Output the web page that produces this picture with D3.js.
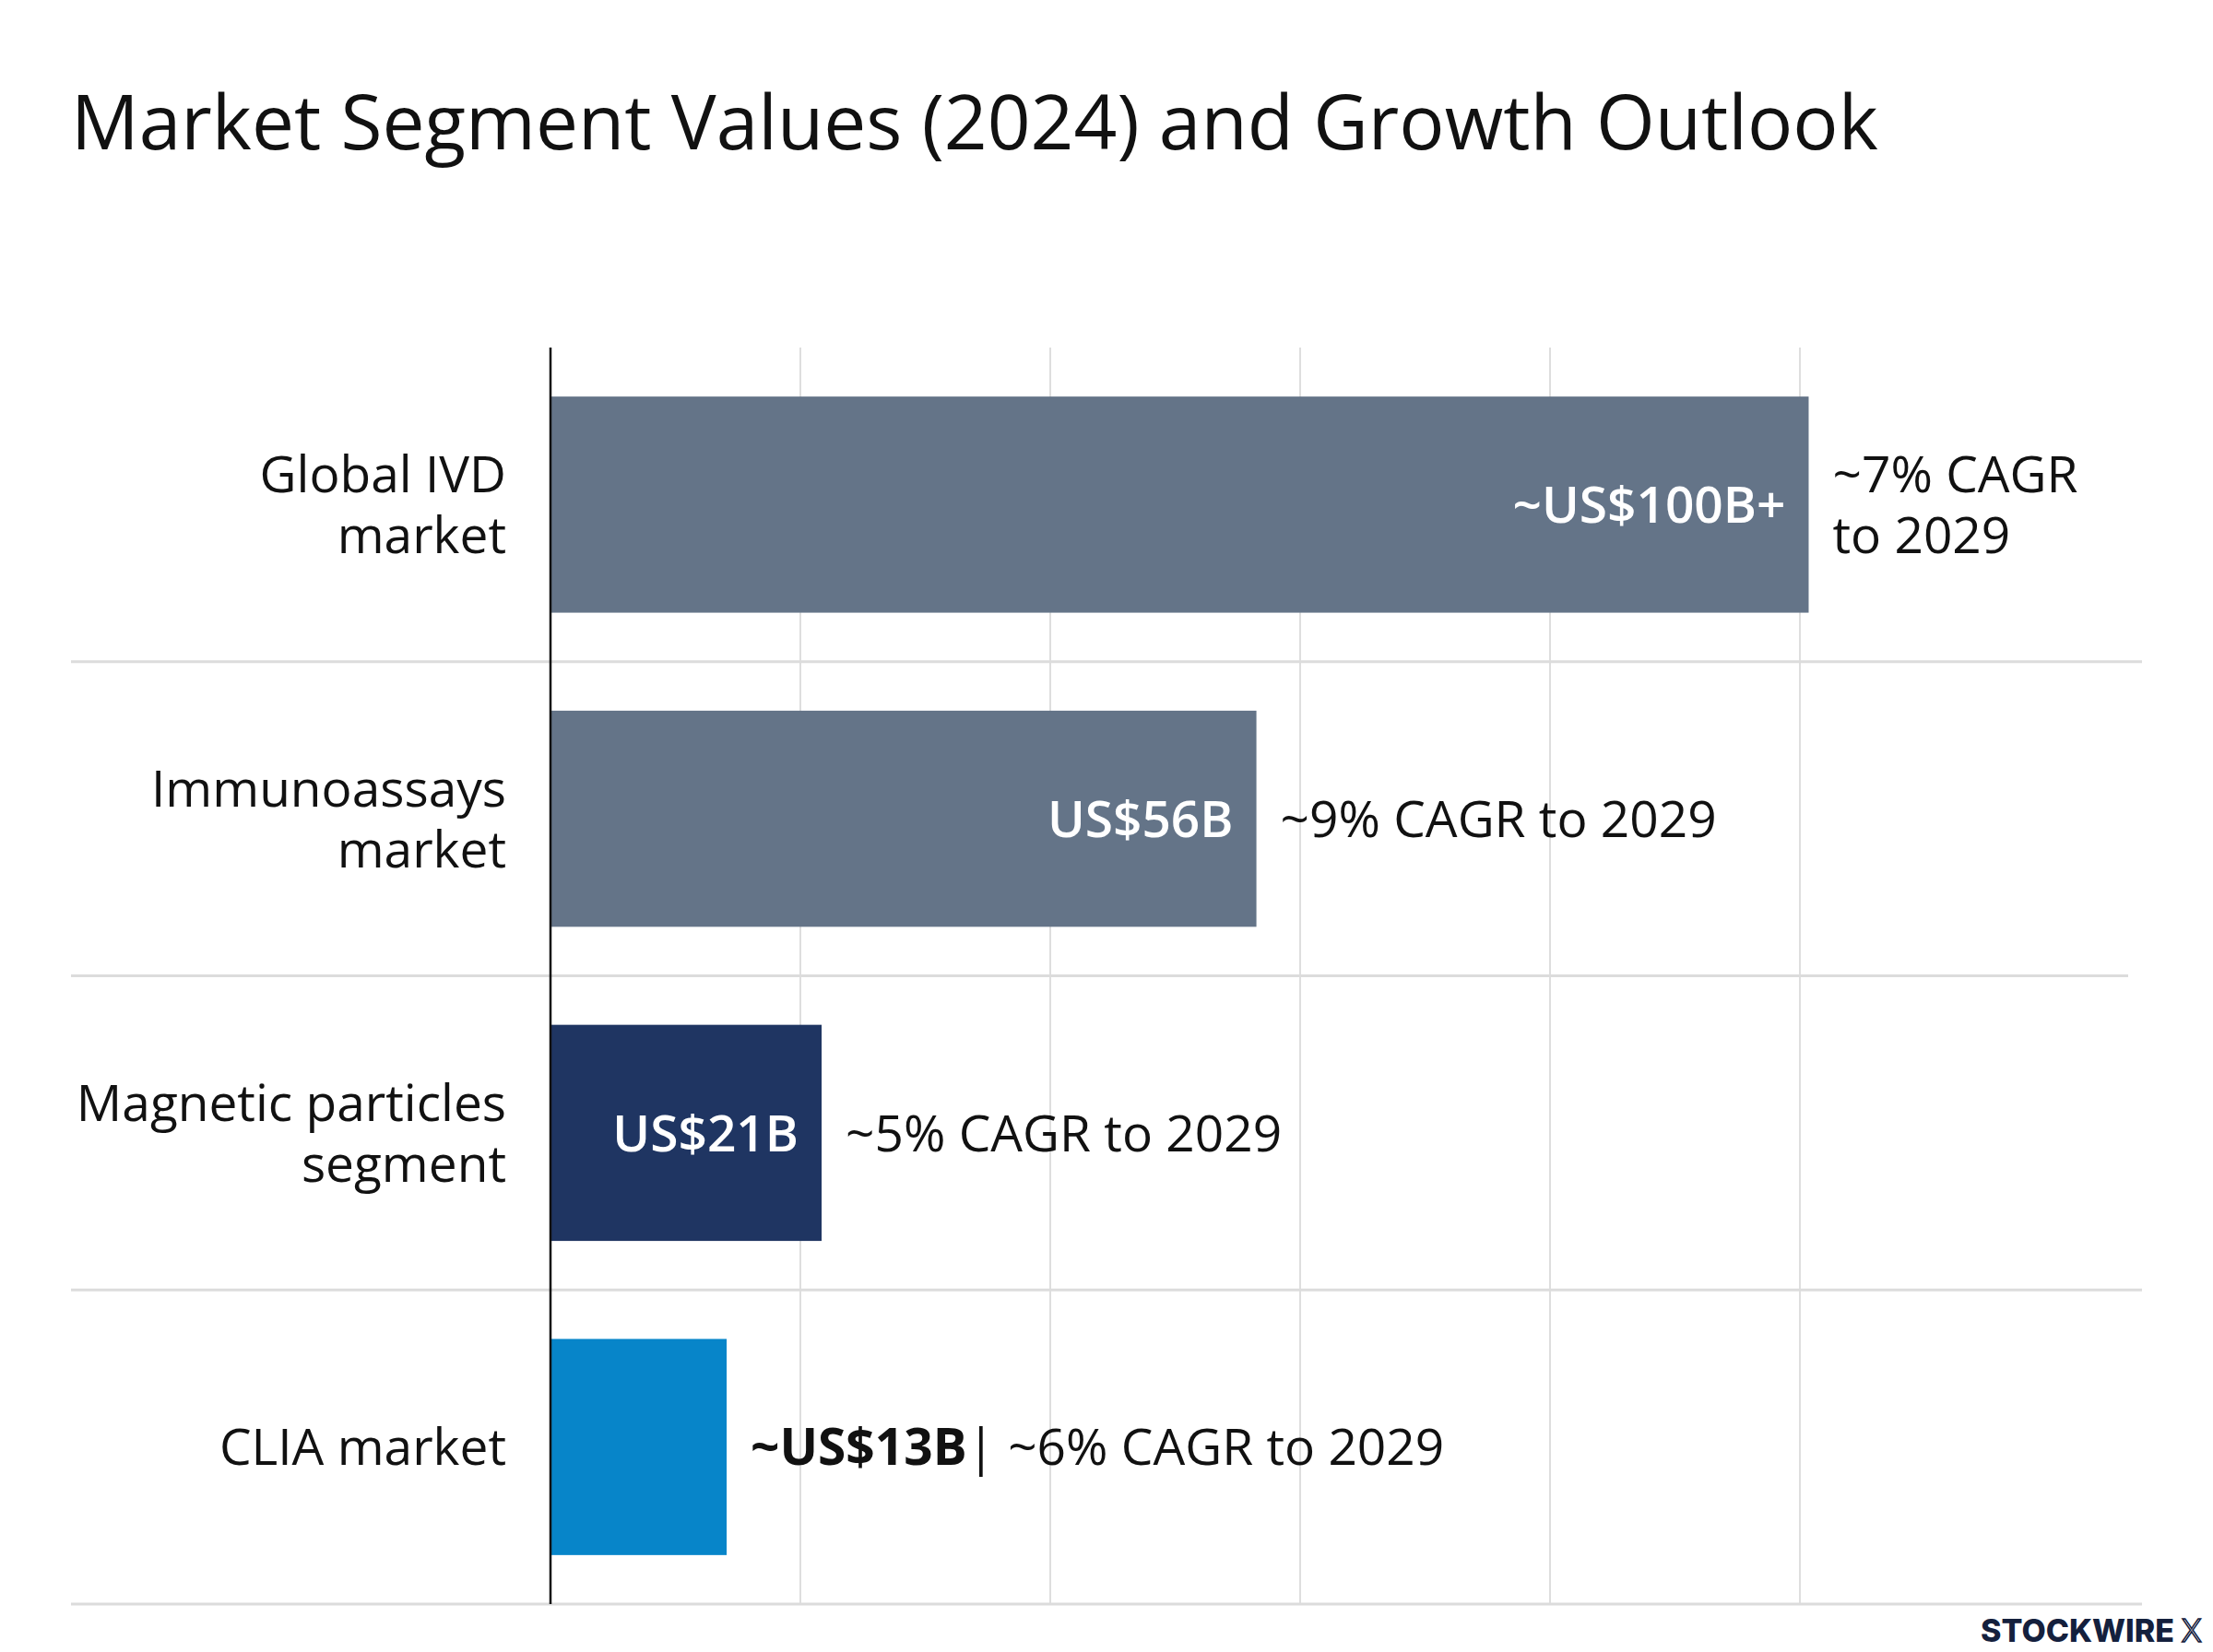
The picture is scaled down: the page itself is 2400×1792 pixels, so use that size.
<!DOCTYPE html>
<html>
<head>
<meta charset="utf-8">
<script src="https://cdn.jsdelivr.net/npm/d3@7"></script>
<style>
  body { margin: 0; background: #fff; }
  svg { display: block; }
  text { font-family: "Open Sans", "Noto Sans", sans-serif; }
</style>
</head>
<body>
<svg id="chart" width="2400" height="1792"></svg>
<script>
// -------- Data --------
const categories = ["Global IVD market", "Immunoassays market", "Magnetic particles segment", "CLIA market"];
const categoryLines = [["Global IVD", "market"], ["Immunoassays", "market"], ["Magnetic particles", "segment"], ["CLIA market"]];
const values = [100.7, 56.5, 21.7, 14.1]; // US$ billions, 2024
const valueLabels = ["~US$100B+", "US$56B", "US$21B", "~US$13B"];
const growthLabels = [["~7% CAGR", "to 2029"], ["~9% CAGR to 2029"], ["~5% CAGR to 2029"], ["~6% CAGR to 2029"]];
const xTicks = [0, 20, 40, 60, 80, 100];

const palette = ["#647488", "#647488", "#1f3562", "#0785c9"];

// -------- Layout --------
const width = 2400, height = 1792;
const margin = { top: 377, right: 448, bottom: 52, left: 597 };
const fontSize = 55;
const lineGap = 66;

const svg = d3.select("#chart");

svg.append("text")
  .attr("x", 77)
  .attr("y", 162)
  .style("font-size", "82px")
  .style("fill", "#111")
  .text("Market Segment Values (2024) and Growth Outlook");

const x = d3.scaleLinear()
  .domain([0, 100])
  .range([margin.left, width - margin.right]);

const y = d3.scaleBand()
  .domain(categories)
  .range([margin.top, height - margin.bottom])
  .paddingInner(0.312)
  .paddingOuter(0.156);

const rowStep = y.step();

// --- vertical gridlines ---
svg.append("g")
  .selectAll("line")
  .data(xTicks.filter((t) => t > 0))
  .join("line")
  .attr("x1", (d) => x(d))
  .attr("x2", (d) => x(d))
  .attr("y1", margin.top)
  .attr("y2", height - margin.bottom)
  .attr("stroke", "#dedede")
  .attr("stroke-width", 2);

// --- row separators ---
svg.append("g")
  .selectAll("line")
  .data(categories)
  .join("line")
  .attr("x1", 77)
  .attr("x2", (d, i) => (i === 1 ? 2308 : 2323))
  .attr("y1", (d) => y(d) - y.paddingOuter() * rowStep + rowStep)
  .attr("y2", (d) => y(d) - y.paddingOuter() * rowStep + rowStep)
  .attr("stroke", "#dcdcdc")
  .attr("stroke-width", 3);

// --- bars ---
const rows = categories.map((c, i) => ({
  cat: c,
  lines: categoryLines[i],
  value: values[i],
  label: valueLabels[i],
  growth: growthLabels[i],
  color: palette[i],
}));

svg.append("g")
  .selectAll("rect")
  .data(rows)
  .join("rect")
  .attr("x", x(0))
  .attr("y", (d) => y(d.cat))
  .attr("width", (d) => x(d.value) - x(0))
  .attr("height", y.bandwidth())
  .attr("fill", (d) => d.color);

// --- axis line ---
svg.append("line")
  .attr("x1", x(0))
  .attr("x2", x(0))
  .attr("y1", margin.top)
  .attr("y2", height - margin.bottom)
  .attr("stroke", "#111")
  .attr("stroke-width", 2.5);

// helper: one <text> per line, block centred on cy
function multiLine(g, lines, xPos, cy, anchor, color) {
  const first = cy - ((lines.length - 1) * lineGap) / 2 + fontSize * 0.36;
  lines.forEach((l, j) => {
    g.append("text")
      .attr("x", xPos)
      .attr("y", first + j * lineGap)
      .attr("text-anchor", anchor)
      .style("font-size", fontSize + "px")
      .style("fill", color)
      .text(l);
  });
}

// --- category labels ---
const catG = svg.append("g");
rows.forEach((d) => {
  multiLine(catG, d.lines, 549, y(d.cat) + y.bandwidth() / 2, "end", "#111");
});

// --- value + growth labels ---
const labels = svg.append("g");
rows.forEach((d) => {
  const cy = y(d.cat) + y.bandwidth() / 2;
  const barEnd = x(d.value);
  const barW = barEnd - x(0);

  const val = labels.append("text")
    .attr("y", cy + fontSize * 0.36)
    .style("font-size", fontSize + "px")
    .style("font-weight", 600)
    .text(d.label);
  const valW = val.node().getComputedTextLength();

  if (valW + 50 < barW) {
    // fits inside the bar
    val.attr("x", barEnd - 25).attr("text-anchor", "end").style("fill", "#fff");
    multiLine(labels, d.growth, barEnd + 26, cy, "start", "#111");
  } else {
    // outside, joined with a separator
    val.attr("x", barEnd + 26).style("fill", "#111").style("font-weight", 700);
    val.append("tspan")
      .style("font-weight", 400)
      .text("| " + d.growth.join(" "));
  }
});

// --- watermark ---
const wm = svg.append("text")
  .attr("x", 2388)
  .attr("y", 1781)
  .attr("text-anchor", "end")
  .style("font-family", "Inter, sans-serif")
  .style("font-size", "34px")
  .style("font-weight", 800)
  .style("fill", "#14203d");
wm.append("tspan").text("STOCKWIRE ");
wm.append("tspan")
  .style("font-weight", 300)
  .style("fill", "none")
  .style("stroke", "#14203d")
  .style("stroke-width", 1.5)
  .text("X");
</script>
</body>
</html>
